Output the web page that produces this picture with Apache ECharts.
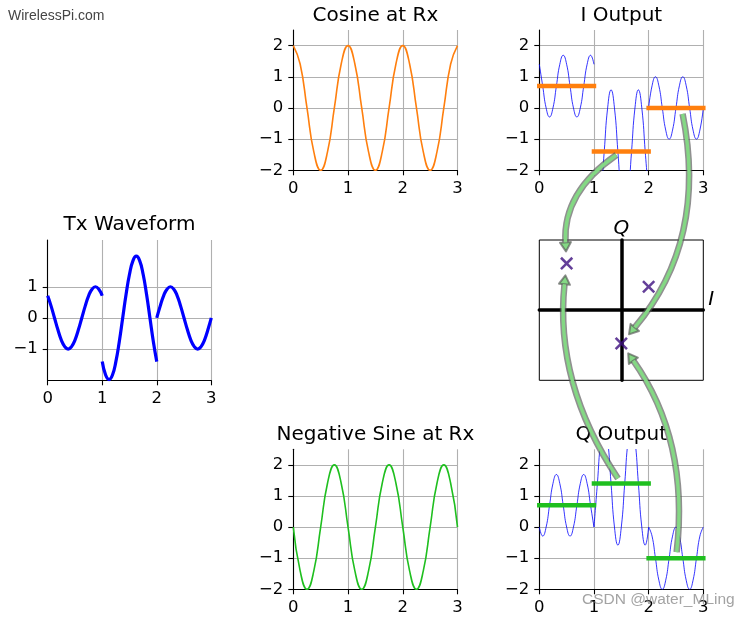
<!DOCTYPE html>
<html>
<head>
<meta charset="utf-8">
<script src="https://cdn.jsdelivr.net/npm/echarts@6/dist/echarts.min.js"></script>
<style>
  html, body { margin: 0; padding: 0; background: #fff; }
  #chart { width: 752px; height: 620px; }
</style>
</head>
<body>
<div id="chart"></div>
<script>
// symbol (I, Q) sent in each of the three intervals
const symbolI = [0.7, -1.4, 0]
const symbolQ = [0.7, 1.4, -1]
const segStarts = [0, 1, 2]

// Tx waveform, one sample every 1/16
const txSeg1 = [0.71, 0.38, 0, -0.38, -0.71, -0.92, -1, -0.92, -0.71, -0.38, 0, 0.38, 0.71, 0.92, 1, 0.92, 0.71]
const txSeg2 = [-1.40, -1.83, -1.98, -1.83, -1.40, -0.76, 0, 0.76, 1.40, 1.83, 1.98, 1.83, 1.40, 0.76, 0, -0.76, -1.40]
const txSeg3 = [0, 0.38, 0.71, 0.92, 1, 0.92, 0.71, 0.38, 0, -0.38, -0.71, -0.92, -1, -0.92, -0.71, -0.38, 0]

// receiver carriers, one sample every 1/8
const rxCos = [2, 1.41, 0, -1.41, -2, -1.41, 0, 1.41, 2, 1.41, 0, -1.41, -2, -1.41, 0, 1.41, 2, 1.41, 0, -1.41, -2, -1.41, 0, 1.41, 2]
const rxNegSin = [0, -1.41, -2, -1.41, 0, 1.41, 2, 1.41, 0, -1.41, -2, -1.41, 0, 1.41, 2, 1.41, 0, -1.41, -2, -1.41, 0, 1.41, 2, 1.41, 0]

// mixer outputs, one sample every 1/16
const iOutSeg1 = [1.40, 0.70, 0, -0.29, 0, 0.70, 1.40, 1.69, 1.40, 0.70, 0, -0.29, 0, 0.70, 1.40, 1.69, 1.40]
const iOutSeg2 = [-2.80, -3.38, -2.80, -1.40, 0, 0.58, 0, -1.40, -2.80, -3.38, -2.80, -1.40, 0, 0.58, 0, -1.40, -2.80]
const iOutSeg3 = [0, 0.71, 1, 0.71, 0, -0.71, -1, -0.71, 0, 0.71, 1, 0.71, 0, -0.71, -1, -0.71, 0]
const qOutSeg1 = [0, -0.29, 0, 0.70, 1.40, 1.69, 1.40, 0.70, 0, -0.29, 0, 0.70, 1.40, 1.69, 1.40, 0.70, 0]
const qOutSeg2 = [0, 1.40, 2.80, 3.38, 2.80, 1.40, 0, -0.58, 0, 1.40, 2.80, 3.38, 2.80, 1.40, 0, -0.58, 0]
const qOutSeg3 = [0, -0.29, -1, -1.71, -2, -1.71, -1, -0.29, 0, -0.29, -1, -1.71, -2, -1.71, -1, -0.29, 0]

const xTicks = [0, 1, 2, 3]
const yTicks = [-2, -1, 0, 1, 2]
const txYTicks = [-1, 0, 1]

const FONT = 'DejaVu Sans'
const BLUE = '#0000ff'
const ORANGE = '#ff7f0e'
const GREEN = '#1fbf1f'

const chart = echarts.init(document.getElementById('chart'), null, { renderer: 'canvas' })

const toPoints = (start, step, values) => values.map((v, i) => [start + i * step, v])
const minusFmt = v => (v < 0 ? '\u2212' + Math.abs(v) : String(v))

// 0 Tx, 1 cosine, 2 I out, 3 constellation, 4 neg sine, 5 Q out
const grids = [
  { left: 47.7, top: 240, width: 163.6, height: 140.3 },
  { left: 293.3, top: 30, width: 164.2, height: 140.3 },
  { left: 539.3, top: 30, width: 164, height: 140.3 },
  { left: 539.3, top: 240, width: 164, height: 140.3, show: true, borderColor: '#000', borderWidth: 1 },
  { left: 293.3, top: 449.3, width: 164.2, height: 140 },
  { left: 539.3, top: 449.3, width: 164, height: 140 }
].map(g => Object.assign({ outerBoundsMode: 'none', containLabel: false }, g))

const plainAxis = (gridIndex, min, max, ticks) => ({
  type: 'value',
  gridIndex,
  min,
  max,
  interval: 1,
  axisLine: { show: true, onZero: false, lineStyle: { color: '#000', width: 1.1 } },
  axisTick: { show: true, length: 5, customValues: ticks, lineStyle: { color: '#000', width: 1.1 } },
  axisLabel: { customValues: ticks, formatter: minusFmt, fontFamily: FONT, fontSize: 16.5, color: '#000', margin: 10 },
  splitLine: { show: true, lineStyle: { color: '#b0b0b0', width: 1.1 } }
})

const iqAxis = (gridIndex, name, extra) => Object.assign({
  type: 'value',
  gridIndex,
  min: -2.1,
  max: 2.1,
  name,
  nameLocation: 'end',
  axisLine: { show: true, onZero: true, lineStyle: { color: '#000', width: 3.5 } },
  axisTick: { show: false },
  axisLabel: { show: false },
  splitLine: { show: false }
}, extra)

const nameFont = { fontFamily: FONT, fontSize: 20, fontStyle: 'italic', color: '#000' }

const xAxes = [0, 1, 2, 4, 5].map(g => plainAxis(g, 0, 3, xTicks))
xAxes.splice(3, 0, iqAxis(3, 'I', { nameGap: 5, nameTextStyle: Object.assign({ verticalAlign: 'bottom' }, nameFont) }))

const yAxes = [
  plainAxis(0, -2, 2.5, txYTicks),
  plainAxis(1, -2, 2.5, yTicks),
  plainAxis(2, -2, 2.5, yTicks),
  iqAxis(3, 'Q', { nameGap: 1, nameTextStyle: nameFont }),
  plainAxis(4, -2, 2.5, yTicks),
  plainAxis(5, -2, 2.5, yTicks)
]

const curve = (idx, data, color, width) => ({
  type: 'line',
  xAxisIndex: idx,
  yAxisIndex: idx,
  data,
  smooth: true,
  showSymbol: false,
  symbol: 'none',
  clip: true,
  silent: true,
  lineStyle: { color, width },
  z: 2
})

const level = (idx, seg, value, color) => ({
  type: 'line',
  xAxisIndex: idx,
  yAxisIndex: idx,
  data: [[segStarts[seg], value], [segStarts[seg] + 1, value]],
  showSymbol: false,
  symbol: 'none',
  clip: true,
  silent: true,
  lineStyle: { color, width: 4.5, cap: 'square' },
  z: 3
})

const txSegs = [txSeg1, txSeg2, txSeg3]
const iSegs = [iOutSeg1, iOutSeg2, iOutSeg3]
const qSegs = [qOutSeg1, qOutSeg2, qOutSeg3]

const series = []
txSegs.forEach((s, k) => series.push(curve(0, toPoints(segStarts[k], 1 / 16, s), BLUE, 3.2)))
series.push(curve(1, toPoints(0, 1 / 8, rxCos), ORANGE, 1.6))
iSegs.forEach((s, k) => series.push(curve(2, toPoints(segStarts[k], 1 / 16, s), BLUE, 0.8)))
symbolI.forEach((v, k) => series.push(level(2, k, v, ORANGE)))
series.push({
  type: 'scatter',
  xAxisIndex: 3,
  yAxisIndex: 3,
  data: symbolI.map((v, k) => [v, symbolQ[k]]),
  symbol: 'path://M4.2,0H5.8V4.2H10V5.8H5.8V10H4.2V5.8H0V4.2H4.2Z',
  symbolSize: 16,
  symbolRotate: 45,
  itemStyle: { color: '#3d0f80' },
  silent: true,
  z: 5
})
series.push(curve(4, toPoints(0, 1 / 8, rxNegSin), GREEN, 1.6))
qSegs.forEach((s, k) => series.push(curve(5, toPoints(segStarts[k], 1 / 16, s), BLUE, 0.8)))
symbolQ.forEach((v, k) => series.push(level(5, k, v, GREEN)))

const titleStyle = { fontFamily: FONT, fontSize: 20, fontWeight: 'normal', color: '#000' }
const titles = [
  { text: 'Tx Waveform', left: 129.5, top: 215 },
  { text: 'Cosine at Rx', left: 375.4, top: 6 },
  { text: 'I Output', left: 621.3, top: 6 },
  { text: 'Negative Sine at Rx', left: 375.4, top: 425 },
  { text: 'Q Output', left: 621.3, top: 425 }
].map(t => Object.assign({ textAlign: 'center', padding: 0, textStyle: titleStyle }, t))

chart.setOption({
  animation: false,
  backgroundColor: '#fff',
  title: titles,
  grid: grids,
  xAxis: xAxes,
  yAxis: yAxes,
  series
})

// curved arrows from the filtered levels to the constellation points
const arrows = [
  { fromGrid: 2, from: [1.5, symbolI[1]], to: [symbolI[1], symbolQ[1]], rad: 0.28 },
  { fromGrid: 2, from: [2.6, symbolI[2]], to: [symbolI[2], symbolQ[2]], rad: -0.24 },
  { fromGrid: 5, from: [1.5, symbolQ[1]], to: [symbolI[1], symbolQ[1]], rad: -0.18 },
  { fromGrid: 5, from: [2.5, symbolQ[2]], to: [symbolI[2], symbolQ[2]], rad: 0.19 }
]

const unit = (a, b) => {
  const l = Math.hypot(b[0] - a[0], b[1] - a[1])
  return [(b[0] - a[0]) / l, (b[1] - a[1]) / l]
}

const arrowElements = a => {
  const S = chart.convertToPixel({ gridIndex: a.fromGrid }, a.from)
  const E = chart.convertToPixel({ gridIndex: 3 }, a.to)
  const dx = E[0] - S[0]
  const dy = E[1] - S[1]
  const C = [(S[0] + E[0]) / 2 - a.rad * dy, (S[1] + E[1]) / 2 + a.rad * dx]
  const u0 = unit(S, C)
  const start = [S[0] + u0[0] * 6, S[1] + u0[1] * 6]
  const u1 = unit(E, C)
  const tip = [E[0] + u1[0] * 12, E[1] + u1[1] * 12]
  const base = [tip[0] + u1[0] * 9, tip[1] + u1[1] * 9]
  const nx = -u1[1]
  const ny = u1[0]
  const head = [tip, [base[0] + nx * 5.5, base[1] + ny * 5.5], [base[0] - nx * 5.5, base[1] - ny * 5.5]]
  const shape = { x1: start[0], y1: start[1], x2: base[0], y2: base[1], cpx1: C[0], cpy1: C[1] }
  return [
    { type: 'bezierCurve', shape, silent: true, z: 100, style: { stroke: 'rgba(85,85,85,0.65)', lineWidth: 6.5, fill: null } },
    { type: 'polygon', shape: { points: head }, silent: true, z: 101, style: { fill: '#84d884', stroke: 'rgba(85,85,85,0.65)', lineWidth: 2, lineJoin: 'round' } },
    { type: 'bezierCurve', shape, silent: true, z: 102, style: { stroke: '#84d884', lineWidth: 3.4, fill: null } }
  ]
}

const elements = []
arrows.forEach(a => elements.push(...arrowElements(a)))
elements.push({
  type: 'text', left: 8, top: 9, z: 110, silent: true,
  style: { text: 'WirelessPi.com', fontFamily: 'Liberation Sans', fontSize: 14, fill: '#454545' }
})
elements.push({
  type: 'text', left: 582, top: 592, z: 110, silent: true,
  style: { text: 'CSDN @water_MLing', fontFamily: 'Liberation Sans', fontSize: 15.5, fill: 'rgba(140,140,140,0.8)' }
})

chart.setOption({ graphic: { elements } })
</script>
</body>
</html>
